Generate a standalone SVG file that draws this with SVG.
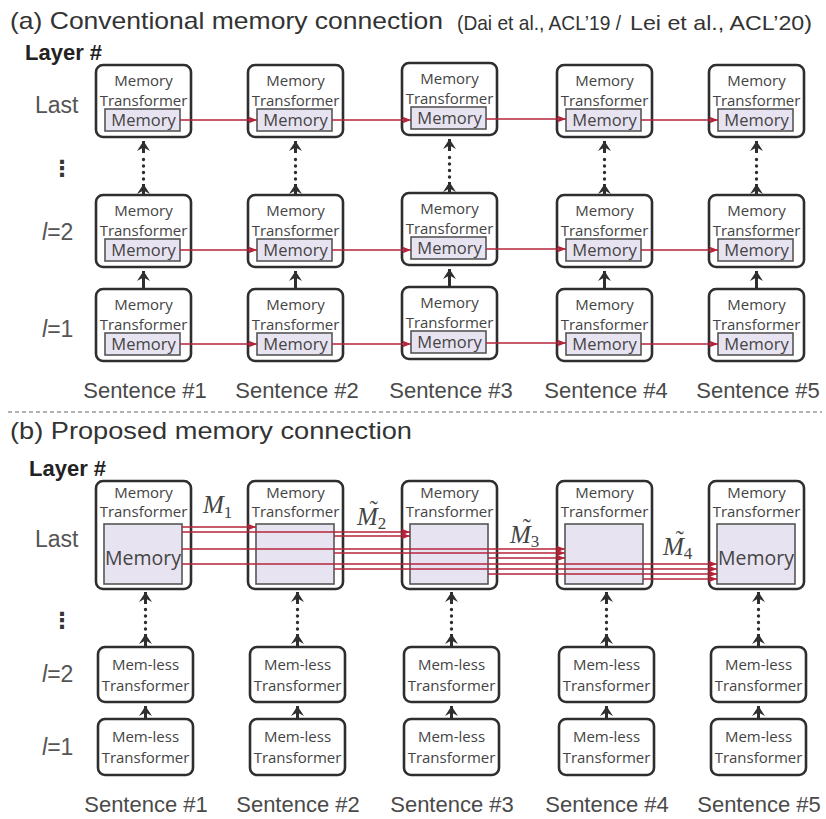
<svg xmlns="http://www.w3.org/2000/svg" width="826" height="819" viewBox="0 0 826 819">
  <defs>
    <style>
      .box { fill: #ffffff; stroke: #2e2e2e; stroke-width: 2.6; }
      .mem { fill: #e8e3f1; stroke: #555555; stroke-width: 1.6; }
      .t { font-family: "Open Sans", "Liberation Sans", sans-serif; font-size: 15px; fill: #444444; text-anchor: middle; }
      .tm { font-family: "Open Sans", "Liberation Sans", sans-serif; font-size: 16.5px; fill: #444444; text-anchor: middle; }
      .tbig { font-family: "Open Sans", "Liberation Sans", sans-serif; font-size: 19.5px; fill: #444444; text-anchor: middle; }
      .title { font-family: "Liberation Sans", Arial, sans-serif; font-size: 24px; fill: #333333; }
      .cite { font-family: "Liberation Sans", Arial, sans-serif; font-size: 21px; fill: #333333; }
      .layer { font-family: "Liberation Sans", Arial, sans-serif; font-size: 22px; font-weight: bold; fill: #222222; }
      .row { font-family: "Liberation Sans", Arial, sans-serif; font-size: 23px; fill: #555555; }
      .vdots { font-family: "DejaVu Sans", sans-serif; font-size: 22px; font-weight: bold; fill: #333333; text-anchor: middle; }
      .sent { font-family: "Liberation Sans", Arial, sans-serif; font-size: 22px; fill: #4a4a4a; text-anchor: middle; }
      .math { font-family: "Liberation Serif", "Times New Roman", serif; font-style: italic; font-size: 25px; fill: #444444; }
      .sub { font-style: normal; font-size: 17px; }
      .tl { font-style: normal; font-size: 24px; }
      .red { stroke: #b5243a; stroke-width: 1.7; fill: none; marker-end: url(#redHead); }
      .up { stroke: #2e2e2e; stroke-width: 3; fill: none; marker-end: url(#darkHead); }
      .dots { stroke: #2e2e2e; stroke-width: 3.4; stroke-linecap: round; stroke-dasharray: 0 6.5; fill: none; }
    </style>
    <marker id="redHead" markerUnits="userSpaceOnUse" markerWidth="10" markerHeight="8" refX="9" refY="0" viewBox="0 -4 10 8" orient="auto">
      <path d="M0,-3.6 L9,0 L0,3.6 L2,0 z" fill="#b5243a"/>
    </marker>
    <marker id="darkHead" markerUnits="userSpaceOnUse" markerWidth="11" markerHeight="14" refX="10" refY="0" viewBox="0 -7 11 14" orient="auto">
      <path d="M0,-6.5 L10,0 L0,6.5 L3.5,0 z" fill="#2e2e2e"/>
    </marker>
  </defs>
  <rect width="826" height="819" fill="#ffffff"/>

  <!-- Section (a) headings -->
  <text class="title" x="10" y="29" textLength="433" lengthAdjust="spacingAndGlyphs">(a) Conventional memory connection</text>
  <text class="cite" x="457" y="30" textLength="164" lengthAdjust="spacingAndGlyphs">(Dai et al., ACL’19 /</text>
  <text class="cite" x="630" y="30" textLength="182" lengthAdjust="spacingAndGlyphs">Lei et al., ACL’20)</text>
  <text class="layer" x="25" y="60">Layer #</text>
  <text class="row" x="35" y="113">Last</text>
  <text class="vdots" x="62" y="176">⋮</text>
  <text class="row" x="42" y="240"><tspan font-style="italic">l</tspan>=2</text>
  <text class="row" x="42" y="337"><tspan font-style="italic">l</tspan>=1</text>

  <!-- (a) Last layer -->
  <g id="a-last-1"><rect class="box" x="96" y="65" width="95" height="72" rx="7"/><rect class="mem" x="105" y="109" width="75" height="22"/><text class="t" x="143.5" y="86">Memory</text><text class="t" x="143.5" y="106">Transformer</text><text class="tm" x="143.5" y="126">Memory</text></g>
  <g id="a-last-2"><rect class="box" x="248" y="65" width="95" height="72" rx="7"/><rect class="mem" x="257" y="109" width="75" height="22"/><text class="t" x="295.5" y="86">Memory</text><text class="t" x="295.5" y="106">Transformer</text><text class="tm" x="295.5" y="126">Memory</text></g>
  <g id="a-last-3"><rect class="box" x="402" y="63" width="95" height="72" rx="7"/><rect class="mem" x="411" y="107" width="75" height="22"/><text class="t" x="449.5" y="84">Memory</text><text class="t" x="449.5" y="104">Transformer</text><text class="tm" x="449.5" y="124">Memory</text></g>
  <g id="a-last-4"><rect class="box" x="557" y="65" width="95" height="72" rx="7"/><rect class="mem" x="566" y="109" width="75" height="22"/><text class="t" x="604.5" y="86">Memory</text><text class="t" x="604.5" y="106">Transformer</text><text class="tm" x="604.5" y="126">Memory</text></g>
  <g id="a-last-5"><rect class="box" x="709" y="65" width="95" height="72" rx="7"/><rect class="mem" x="718" y="109" width="75" height="22"/><text class="t" x="756.5" y="86">Memory</text><text class="t" x="756.5" y="106">Transformer</text><text class="tm" x="756.5" y="126">Memory</text></g>

  <!-- (a) Layer 2 -->
  <g id="a-l2-1"><rect class="box" x="96" y="195" width="95" height="72" rx="7"/><rect class="mem" x="105" y="239" width="75" height="22"/><text class="t" x="143.5" y="216">Memory</text><text class="t" x="143.5" y="236">Transformer</text><text class="tm" x="143.5" y="256">Memory</text></g>
  <g id="a-l2-2"><rect class="box" x="248" y="195" width="95" height="72" rx="7"/><rect class="mem" x="257" y="239" width="75" height="22"/><text class="t" x="295.5" y="216">Memory</text><text class="t" x="295.5" y="236">Transformer</text><text class="tm" x="295.5" y="256">Memory</text></g>
  <g id="a-l2-3"><rect class="box" x="402" y="193" width="95" height="72" rx="7"/><rect class="mem" x="411" y="237" width="75" height="22"/><text class="t" x="449.5" y="214">Memory</text><text class="t" x="449.5" y="234">Transformer</text><text class="tm" x="449.5" y="254">Memory</text></g>
  <g id="a-l2-4"><rect class="box" x="557" y="195" width="95" height="72" rx="7"/><rect class="mem" x="566" y="239" width="75" height="22"/><text class="t" x="604.5" y="216">Memory</text><text class="t" x="604.5" y="236">Transformer</text><text class="tm" x="604.5" y="256">Memory</text></g>
  <g id="a-l2-5"><rect class="box" x="709" y="195" width="95" height="72" rx="7"/><rect class="mem" x="718" y="239" width="75" height="22"/><text class="t" x="756.5" y="216">Memory</text><text class="t" x="756.5" y="236">Transformer</text><text class="tm" x="756.5" y="256">Memory</text></g>

  <!-- (a) Layer 1 -->
  <g id="a-l1-1"><rect class="box" x="96" y="289" width="95" height="72" rx="7"/><rect class="mem" x="105" y="333" width="75" height="22"/><text class="t" x="143.5" y="310">Memory</text><text class="t" x="143.5" y="330">Transformer</text><text class="tm" x="143.5" y="350">Memory</text></g>
  <g id="a-l1-2"><rect class="box" x="248" y="289" width="95" height="72" rx="7"/><rect class="mem" x="257" y="333" width="75" height="22"/><text class="t" x="295.5" y="310">Memory</text><text class="t" x="295.5" y="330">Transformer</text><text class="tm" x="295.5" y="350">Memory</text></g>
  <g id="a-l1-3"><rect class="box" x="402" y="287" width="95" height="72" rx="7"/><rect class="mem" x="411" y="331" width="75" height="22"/><text class="t" x="449.5" y="308">Memory</text><text class="t" x="449.5" y="328">Transformer</text><text class="tm" x="449.5" y="348">Memory</text></g>
  <g id="a-l1-4"><rect class="box" x="557" y="289" width="95" height="72" rx="7"/><rect class="mem" x="566" y="333" width="75" height="22"/><text class="t" x="604.5" y="310">Memory</text><text class="t" x="604.5" y="330">Transformer</text><text class="tm" x="604.5" y="350">Memory</text></g>
  <g id="a-l1-5"><rect class="box" x="709" y="289" width="95" height="72" rx="7"/><rect class="mem" x="718" y="333" width="75" height="22"/><text class="t" x="756.5" y="310">Memory</text><text class="t" x="756.5" y="330">Transformer</text><text class="tm" x="756.5" y="350">Memory</text></g>

  <!-- (a) Sentence labels -->
  <g id="a-sentences">
    <text class="sent" x="145" y="398">Sentence #1</text>
    <text class="sent" x="297" y="398">Sentence #2</text>
    <text class="sent" x="451" y="398">Sentence #3</text>
    <text class="sent" x="606" y="398">Sentence #4</text>
    <text class="sent" x="758" y="398">Sentence #5</text>
  </g>

  <!-- (a) connectors -->
  <g id="a-connectors">
    <!-- layer-to-layer, upward -->
    <line class="up" x1="143.5" y1="289" x2="143.5" y2="271"/>
    <line class="up" x1="295.5" y1="289" x2="295.5" y2="271"/>
    <line class="up" x1="449.5" y1="287" x2="449.5" y2="269"/>
    <line class="up" x1="604.5" y1="289" x2="604.5" y2="271"/>
    <line class="up" x1="756.5" y1="289" x2="756.5" y2="271"/>

    <line class="up" x1="143.5" y1="195" x2="143.5" y2="184"/><line class="dots" x1="143.5" y1="179" x2="143.5" y2="155"/><line class="up" x1="143.5" y1="153" x2="143.5" y2="141"/>
    <line class="up" x1="295.5" y1="195" x2="295.5" y2="184"/><line class="dots" x1="295.5" y1="179" x2="295.5" y2="155"/><line class="up" x1="295.5" y1="153" x2="295.5" y2="141"/>
    <line class="up" x1="449.5" y1="193" x2="449.5" y2="182"/><line class="dots" x1="449.5" y1="177" x2="449.5" y2="153"/><line class="up" x1="449.5" y1="151" x2="449.5" y2="139"/>
    <line class="up" x1="604.5" y1="195" x2="604.5" y2="184"/><line class="dots" x1="604.5" y1="179" x2="604.5" y2="155"/><line class="up" x1="604.5" y1="153" x2="604.5" y2="141"/>
    <line class="up" x1="756.5" y1="195" x2="756.5" y2="184"/><line class="dots" x1="756.5" y1="179" x2="756.5" y2="155"/><line class="up" x1="756.5" y1="153" x2="756.5" y2="141"/>

    <!-- memory passed to the next segment -->
    <line class="red" x1="180" y1="120" x2="257" y2="120"/><line class="red" x1="332" y1="120" x2="411" y2="120"/><line class="red" x1="486" y1="119" x2="566" y2="119"/><line class="red" x1="641" y1="120" x2="718" y2="120"/>
    <line class="red" x1="180" y1="250" x2="257" y2="250"/><line class="red" x1="332" y1="250" x2="411" y2="250"/><line class="red" x1="486" y1="249" x2="566" y2="249"/><line class="red" x1="641" y1="250" x2="718" y2="250"/>
    <line class="red" x1="180" y1="344" x2="257" y2="344"/><line class="red" x1="332" y1="344" x2="411" y2="344"/><line class="red" x1="486" y1="343" x2="566" y2="343"/><line class="red" x1="641" y1="344" x2="718" y2="344"/>
  </g>

  <!-- Divider -->
  <line x1="8" y1="412" x2="822" y2="412" stroke="#666" stroke-width="1.2" stroke-dasharray="4 3"/>

  <!-- Section (b) headings -->
  <text class="title" x="10" y="439" textLength="402" lengthAdjust="spacingAndGlyphs">(b) Proposed memory connection</text>
  <text class="layer" x="29" y="476">Layer #</text>
  <text class="row" x="35" y="547">Last</text>
  <text class="vdots" x="62" y="628">⋮</text>
  <text class="row" x="42" y="682"><tspan font-style="italic">l</tspan>=2</text>
  <text class="row" x="42" y="755"><tspan font-style="italic">l</tspan>=1</text>

  <!-- (b) Last layer -->
  <g id="b-last-1"><rect class="box" x="96" y="481" width="95" height="108" rx="7"/><rect class="mem" x="104" y="524" width="78" height="60"/><text class="t" x="143.5" y="498">Memory</text><text class="t" x="143.5" y="517">Transformer</text><text class="tbig" x="143" y="565">Memory</text></g>
  <g id="b-last-2"><rect class="box" x="248" y="481" width="95" height="108" rx="7"/><rect class="mem" x="256" y="524" width="78" height="60"/><text class="t" x="295.5" y="498">Memory</text><text class="t" x="295.5" y="517">Transformer</text></g>
  <g id="b-last-3"><rect class="box" x="402" y="481" width="95" height="108" rx="7"/><rect class="mem" x="410" y="524" width="78" height="60"/><text class="t" x="449.5" y="498">Memory</text><text class="t" x="449.5" y="517">Transformer</text></g>
  <g id="b-last-4"><rect class="box" x="557" y="481" width="95" height="108" rx="7"/><rect class="mem" x="565" y="524" width="78" height="60"/><text class="t" x="604.5" y="498">Memory</text><text class="t" x="604.5" y="517">Transformer</text></g>
  <g id="b-last-5"><rect class="box" x="709" y="481" width="95" height="108" rx="7"/><rect class="mem" x="717" y="524" width="78" height="60"/><text class="t" x="756.5" y="498">Memory</text><text class="t" x="756.5" y="517">Transformer</text><text class="tbig" x="756" y="565">Memory</text></g>

  <!-- (b) Layer 2 -->
  <g id="b-l2-1"><rect class="box" x="98" y="647" width="95" height="55" rx="7"/><text class="t" x="145.5" y="670">Mem-less</text><text class="t" x="145.5" y="691">Transformer</text></g>
  <g id="b-l2-2"><rect class="box" x="250" y="647" width="95" height="55" rx="7"/><text class="t" x="297.5" y="670">Mem-less</text><text class="t" x="297.5" y="691">Transformer</text></g>
  <g id="b-l2-3"><rect class="box" x="404" y="647" width="95" height="55" rx="7"/><text class="t" x="451.5" y="670">Mem-less</text><text class="t" x="451.5" y="691">Transformer</text></g>
  <g id="b-l2-4"><rect class="box" x="559" y="647" width="95" height="55" rx="7"/><text class="t" x="606.5" y="670">Mem-less</text><text class="t" x="606.5" y="691">Transformer</text></g>
  <g id="b-l2-5"><rect class="box" x="711" y="647" width="95" height="55" rx="7"/><text class="t" x="758.5" y="670">Mem-less</text><text class="t" x="758.5" y="691">Transformer</text></g>

  <!-- (b) Layer 1 -->
  <g id="b-l1-1"><rect class="box" x="98" y="719" width="95" height="56" rx="7"/><text class="t" x="145.5" y="742">Mem-less</text><text class="t" x="145.5" y="763">Transformer</text></g>
  <g id="b-l1-2"><rect class="box" x="250" y="719" width="95" height="56" rx="7"/><text class="t" x="297.5" y="742">Mem-less</text><text class="t" x="297.5" y="763">Transformer</text></g>
  <g id="b-l1-3"><rect class="box" x="404" y="719" width="95" height="56" rx="7"/><text class="t" x="451.5" y="742">Mem-less</text><text class="t" x="451.5" y="763">Transformer</text></g>
  <g id="b-l1-4"><rect class="box" x="559" y="719" width="95" height="56" rx="7"/><text class="t" x="606.5" y="742">Mem-less</text><text class="t" x="606.5" y="763">Transformer</text></g>
  <g id="b-l1-5"><rect class="box" x="711" y="719" width="95" height="56" rx="7"/><text class="t" x="758.5" y="742">Mem-less</text><text class="t" x="758.5" y="763">Transformer</text></g>

  <!-- (b) Sentence labels -->
  <g id="b-sentences">
    <text class="sent" x="146" y="812">Sentence #1</text>
    <text class="sent" x="298" y="812">Sentence #2</text>
    <text class="sent" x="452" y="812">Sentence #3</text>
    <text class="sent" x="607" y="812">Sentence #4</text>
    <text class="sent" x="759" y="812">Sentence #5</text>
  </g>

  <!-- (b) connectors -->
  <g id="b-connectors">
    <line class="up" x1="145.5" y1="719" x2="145.5" y2="706"/>
    <line class="up" x1="297.5" y1="719" x2="297.5" y2="706"/>
    <line class="up" x1="451.5" y1="719" x2="451.5" y2="706"/>
    <line class="up" x1="606.5" y1="719" x2="606.5" y2="706"/>
    <line class="up" x1="758.5" y1="719" x2="758.5" y2="706"/>

    <line class="up" x1="145.5" y1="647" x2="145.5" y2="634"/><line class="dots" x1="145.5" y1="629" x2="145.5" y2="606"/><line class="up" x1="145.5" y1="604" x2="145.5" y2="592"/>
    <line class="up" x1="297.5" y1="647" x2="297.5" y2="634"/><line class="dots" x1="297.5" y1="629" x2="297.5" y2="606"/><line class="up" x1="297.5" y1="604" x2="297.5" y2="592"/>
    <line class="up" x1="451.5" y1="647" x2="451.5" y2="634"/><line class="dots" x1="451.5" y1="629" x2="451.5" y2="606"/><line class="up" x1="451.5" y1="604" x2="451.5" y2="592"/>
    <line class="up" x1="606.5" y1="647" x2="606.5" y2="634"/><line class="dots" x1="606.5" y1="629" x2="606.5" y2="606"/><line class="up" x1="606.5" y1="604" x2="606.5" y2="592"/>
    <line class="up" x1="758.5" y1="647" x2="758.5" y2="634"/><line class="dots" x1="758.5" y1="629" x2="758.5" y2="606"/><line class="up" x1="758.5" y1="604" x2="758.5" y2="592"/>

    <!-- every memory reaches all later segments -->
    <line class="red" x1="182" y1="527" x2="256" y2="527"/>
    <line class="red" x1="182" y1="532" x2="410" y2="532"/>
    <line class="red" x1="182" y1="549" x2="565" y2="549"/>
    <line class="red" x1="182" y1="564" x2="717" y2="564"/>
    <line class="red" x1="334" y1="536" x2="410" y2="536"/>
    <line class="red" x1="334" y1="553" x2="565" y2="553"/>
    <line class="red" x1="334" y1="569" x2="717" y2="569"/>
    <line class="red" x1="488" y1="558" x2="565" y2="558"/>
    <line class="red" x1="488" y1="574" x2="717" y2="574"/>
    <line class="red" x1="643" y1="579" x2="717" y2="579"/>
  </g>

  <!-- memory symbols: M_1 and the tilde-marked M_2..M_4 -->
  <g id="b-labels">
    <text class="math" x="203" y="513">M<tspan class="sub" dy="5">1</tspan></text>
    <text class="math" x="357" y="525">M<tspan class="tl" dx="-8" dy="-8">˜</tspan><tspan class="sub" dx="0" dy="12">2</tspan></text>
    <text class="math" x="510" y="543">M<tspan class="tl" dx="-8" dy="-8">˜</tspan><tspan class="sub" dx="0" dy="12">3</tspan></text>
    <text class="math" x="663" y="555">M<tspan class="tl" dx="-8" dy="-8">˜</tspan><tspan class="sub" dx="0" dy="12">4</tspan></text>
  </g>
</svg>
